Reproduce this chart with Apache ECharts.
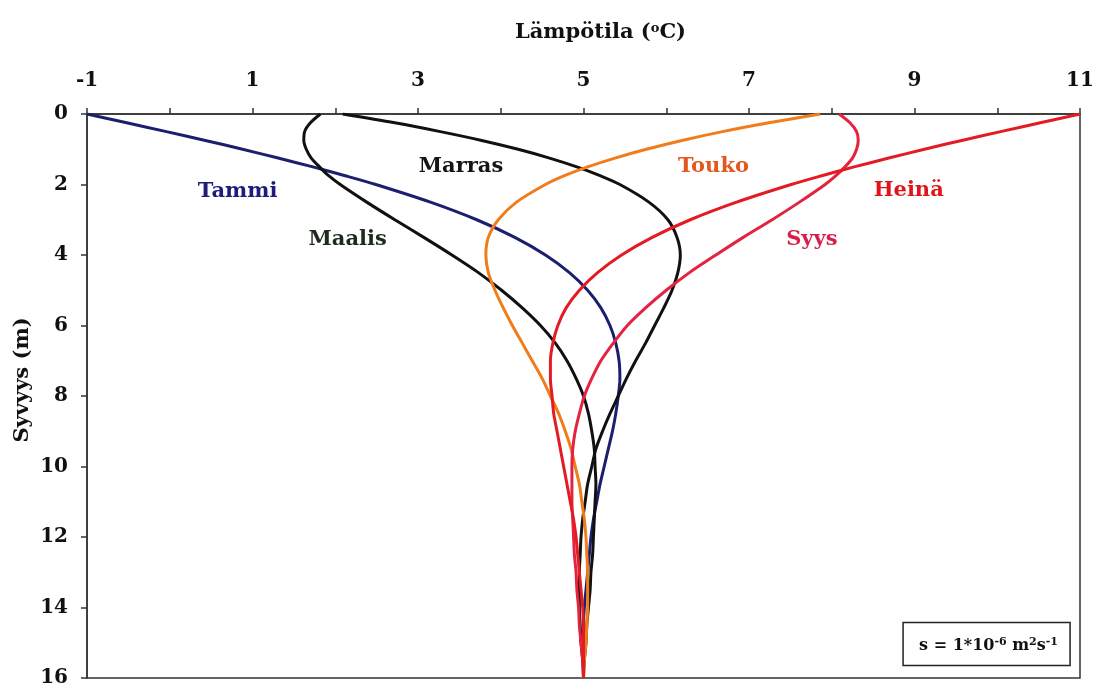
<!DOCTYPE html>
<html>
<head>
<meta charset="utf-8">
<script src="https://cdn.jsdelivr.net/npm/echarts@6/dist/echarts.min.js"></script>
<style>html,body{margin:0;padding:0;background:#fff}#c{width:1093px;height:690px}</style>
</head>
<body>
<div id="c"></div>
<script>
// Depths (m) at which temperatures were read
const depths = [0, 0.25, 0.5, 0.75, 1, 1.25, 1.5, 1.75, 2, 2.5, 3, 3.5, 4, 4.5, 5, 5.5, 6, 6.5, 7, 7.5, 8, 8.5, 9, 9.5, 10, 10.5, 11, 11.5, 12, 12.5, 13, 13.5, 14, 14.5, 15, 15.5, 16];
// Temperature (°C) per month
const tammi  = [-1.00, -0.52, -0.04, 0.43, 0.88, 1.31, 1.73, 2.12, 2.49, 3.15, 3.71, 4.17, 4.54, 4.83, 5.05, 5.21, 5.32, 5.39, 5.43, 5.44, 5.42, 5.39, 5.35, 5.30, 5.25, 5.20, 5.16, 5.12, 5.09, 5.07, 5.05, 5.03, 5.01, 5.00, 5.00, 5.00, 5.00];
const maalis = [1.82, 1.70, 1.63, 1.62, 1.65, 1.71, 1.81, 1.92, 2.06, 2.38, 2.72, 3.07, 3.41, 3.73, 4.01, 4.26, 4.48, 4.66, 4.80, 4.91, 5.00, 5.06, 5.10, 5.13, 5.14, 5.15, 5.14, 5.13, 5.12, 5.11, 5.09, 5.08, 5.06, 5.04, 5.03, 5.01, 5.00];
const marras = [2.09, 2.72, 3.27, 3.77, 4.21, 4.59, 4.92, 5.20, 5.44, 5.79, 6.02, 6.13, 6.17, 6.14, 6.07, 5.97, 5.86, 5.75, 5.63, 5.52, 5.42, 5.32, 5.23, 5.15, 5.10, 5.05, 5.02, 4.99, 4.97, 4.96, 4.95, 4.95, 4.95, 4.96, 4.97, 4.99, 5.00];
const touko  = [7.86, 7.24, 6.68, 6.19, 5.76, 5.38, 5.05, 4.77, 4.54, 4.19, 3.97, 3.85, 3.82, 3.85, 3.93, 4.03, 4.14, 4.26, 4.38, 4.50, 4.60, 4.70, 4.78, 4.85, 4.90, 4.95, 4.98, 5.01, 5.03, 5.04, 5.05, 5.05, 5.05, 5.04, 5.03, 5.01, 5.00];
const syys   = [8.09, 8.22, 8.30, 8.32, 8.30, 8.25, 8.16, 8.05, 7.92, 7.61, 7.28, 6.93, 6.60, 6.28, 6.00, 5.75, 5.53, 5.36, 5.21, 5.10, 5.01, 4.95, 4.90, 4.87, 4.86, 4.86, 4.86, 4.87, 4.88, 4.89, 4.91, 4.92, 4.94, 4.95, 4.97, 4.99, 5.00];
const heina  = [11.00, 10.52, 10.04, 9.57, 9.12, 8.69, 8.27, 7.88, 7.51, 6.85, 6.29, 5.83, 5.46, 5.17, 4.95, 4.79, 4.69, 4.63, 4.60, 4.60, 4.62, 4.64, 4.68, 4.72, 4.76, 4.80, 4.84, 4.88, 4.91, 4.93, 4.95, 4.97, 4.99, 5.00, 5.00, 5.00, 5.00];

const names = ['Tammi', 'Maalis', 'Marras', 'Touko', 'Syys', 'Heinä'];
const lineColors = ['#1b1f6e', '#111111', '#111111', '#f07d1a', '#e3233f', '#e31b23'];
const labelColors = ['#1e1e7a', '#1e2a1e', '#151515', '#e4571e', '#d81e4a', '#e0151c'];
// label anchor [temperature, depth]
const labelAt = [[0.82, 2.21], [2.15, 3.55], [3.52, 1.50], [6.57, 1.50], [7.76, 3.57], [8.93, 2.18]];
const xTicks = [-1, 1, 3, 5, 7, 9, 11];
const yTicks = [0, 2, 4, 6, 8, 10, 12, 14, 16];

const allData = [tammi, maalis, marras, touko, syys, heina];
const FONT = '"DejaVu Serif", "Liberation Serif", serif';

const series = allData.map((arr, i) => ({
  name: names[i],
  type: 'line',
  smooth: 0.3,
  symbol: 'none',
  lineStyle: { width: 3, color: lineColors[i] },
  data: arr.map((t, k) => [t, depths[k]]),
  markPoint: {
    symbol: 'circle', symbolSize: 0,
    label: { show: true, position: 'inside', formatter: names[i], fontFamily: FONT, fontWeight: 'bold', fontSize: 21, color: labelColors[i] },
    data: [{ coord: labelAt[i] }]
  },
  z: 2 + i
}));

const chart = echarts.init(document.getElementById('c'), null, { renderer: 'canvas' });
chart.setOption({
  animation: false,
  backgroundColor: '#fff',
  grid: { left: 87, right: 13, top: 114, bottom: 12, containLabel: false, outerBoundsMode: 'none', show: true, borderColor: '#333', borderWidth: 1.5, backgroundColor: 'transparent' },
  title: {
    text: '{a|s = 1*10}{sup|-6}{a| m}{sup|2}{a|s}{sup|-1}',
    right: 23, bottom: 24,
    borderColor: '#222', borderWidth: 1.5,
    padding: [14, 12, 12, 16],
    textStyle: {
      rich: {
        a: { fontFamily: FONT, fontWeight: 'bold', fontSize: 16, color: '#111' },
        sup: { fontFamily: FONT, fontWeight: 'bold', fontSize: 11, color: '#111', verticalAlign: 'top', padding: [0, 0, 8, 0] }
      }
    }
  },
  graphic: [{
    type: 'text', x: 23, y: 380, rotation: Math.PI / 2,
    style: { text: 'Syvyys (m)', fontFamily: FONT, fontWeight: 'bold', fontSize: 21, fill: '#111', align: 'center', verticalAlign: 'middle' }
  }],
  xAxis: {
    type: 'value', position: 'top', min: -1, max: 11, interval: 1,
    name: '{n|Lämpötila (}{s|o}{n|C)}', nameLocation: 'middle', nameGap: 70,
    nameTextStyle: {
      padding: [0, 0, 0, 34],
      rich: {
        n: { fontFamily: FONT, fontWeight: 'bold', fontSize: 21, color: '#111' },
        s: { fontFamily: FONT, fontWeight: 'bold', fontSize: 13, color: '#111', verticalAlign: 'top', padding: [0, 0, 9, 0] }
      }
    },
    axisLine: { show: true, onZero: false, lineStyle: { color: '#333', width: 1.5 } },
    axisTick: { show: true, inside: false, length: 6, lineStyle: { color: '#333', width: 1.5 } },
    axisLabel: {
      margin: 23, fontFamily: FONT, fontWeight: 'bold', fontSize: 20, color: '#111',
      formatter: v => xTicks.indexOf(v) >= 0 ? String(v) : ''
    },
    splitLine: { show: false }
  },
  yAxis: {
    type: 'value', inverse: true, min: 0, max: 16, interval: 2,
    axisLine: { show: true, onZero: false, lineStyle: { color: '#333', width: 1.5 } },
    axisTick: { show: true, inside: false, length: 6, lineStyle: { color: '#333', width: 1.5 } },
    axisLabel: {
      margin: 19, fontFamily: FONT, fontWeight: 'bold', fontSize: 20, color: '#111',
      formatter: v => yTicks.indexOf(v) >= 0 ? String(v) : ''
    },
    splitLine: { show: false }
  },
  series: series
});
</script>
</body>
</html>
